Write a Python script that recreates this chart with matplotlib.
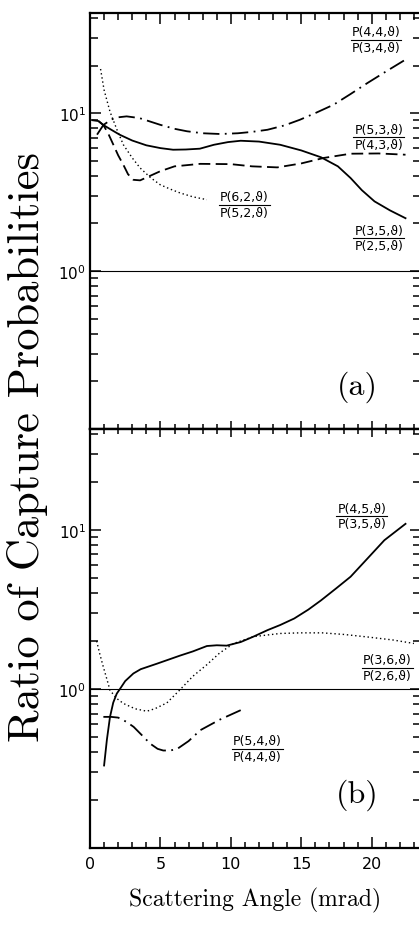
import matplotlib
matplotlib.use("Agg")
import matplotlib.pyplot as plt
from matplotlib.ticker import LogLocator, MultipleLocator, NullFormatter, FixedLocator

# ---------------- data ----------------
# panel (a)
a_solid_x = [0.2, 0.6, 0.95, 1.5, 2.1, 3.0, 4.0, 5.0, 5.9, 6.8, 7.8, 8.8, 9.8, 10.7,
             12.0, 13.5, 15.0, 16.4, 17.6, 18.5, 19.3, 20.2, 21.3, 22.4]
a_solid_y = [9.0, 8.9, 8.4, 7.85, 7.3, 6.7, 6.25, 6.0, 5.86, 5.88, 5.95, 6.3, 6.55, 6.68,
             6.6, 6.3, 5.8, 5.25, 4.6, 3.88, 3.25, 2.76, 2.42, 2.16]

a_dashed_x = [0.6, 0.95, 1.3, 1.66, 2.0, 2.37, 2.7, 3.08, 3.56, 4.2, 4.98, 6.0, 7.83,
              10.0, 11.5, 13.3, 15.0, 16.6, 18.5, 20.5, 22.4]
a_dashed_y = [8.9, 8.4, 7.4, 6.3, 5.4, 4.7, 4.1, 3.78, 3.75, 3.98, 4.28, 4.6, 4.77,
              4.75, 4.6, 4.53, 4.8, 5.2, 5.53, 5.55, 5.45]

a_dashdot_x = [0.5, 0.95, 1.5, 2.0, 2.6, 3.5, 4.98, 6.0, 6.88, 8.0, 9.25, 10.5, 11.5,
               12.6, 13.8, 14.9, 16.0, 17.3, 18.5, 19.7, 21.0, 22.4]
a_dashdot_y = [7.3, 8.4, 9.1, 9.4, 9.53, 9.3, 8.43, 7.95, 7.67, 7.45, 7.37, 7.45, 7.6,
               7.84, 8.35, 9.07, 10.0, 11.3, 13.2, 15.5, 18.3, 21.8]

a_dotted_x = [0.75, 1.0, 1.42, 1.9, 2.37, 3.0, 3.56, 4.3, 4.98, 5.7, 6.4, 7.3, 8.3]
a_dotted_y = [19.0, 14.0, 10.2, 7.9, 6.3, 5.2, 4.49, 3.9, 3.52, 3.3, 3.12, 2.95, 2.83]

# panel (b)
b_solid_x = [1.0, 1.2, 1.42, 1.65, 1.9, 2.13, 2.5, 3.08, 3.6, 4.75, 5.6, 6.4, 7.3, 8.3,
             9.0, 9.7, 10.7, 11.6, 12.6, 13.5, 14.5, 15.5, 16.4, 17.5, 18.5, 19.7, 20.9, 22.4]
b_solid_y = [0.33, 0.48, 0.667, 0.82, 0.934, 1.0, 1.12, 1.25, 1.33, 1.44, 1.53, 1.62, 1.72, 1.86,
             1.88, 1.87, 1.97, 2.13, 2.34, 2.52, 2.77, 3.15, 3.6, 4.3, 5.07, 6.6, 8.6, 10.9]

b_dotted_x = [0.47, 0.7, 0.95, 1.2, 1.42, 1.9, 2.37, 3.2, 4.03, 4.6, 5.46, 6.45, 7.3, 8.3,
              9.2, 10.2, 11.6, 13.5, 14.9, 16.5, 18.0, 19.7, 21.5, 23.0]
b_dotted_y = [2.0, 1.65, 1.37, 1.15, 0.98, 0.87, 0.81, 0.75, 0.724, 0.75, 0.817, 1.0, 1.2, 1.42,
              1.68, 1.93, 2.13, 2.23, 2.25, 2.25, 2.2, 2.12, 2.03, 1.93]

b_dashdot_x = [0.95, 1.5, 2.0, 2.6, 3.1, 3.7, 4.27, 4.8, 5.2, 5.7, 6.2, 7.0, 7.83, 9.2, 10.7]
b_dashdot_y = [0.667, 0.667, 0.66, 0.62, 0.577, 0.51, 0.453, 0.42, 0.41, 0.41, 0.42, 0.47,
               0.55, 0.64, 0.735]

x_tick_values = [0, 5, 10, 15, 20]
x_tick_labels = ["0", "5", "10", "15", "20"]
y_tick_values = [1, 10]
y_tick_labels = [r"$10^0$", r"$10^1$"]

labels_a = [("P(4,4,ϑ)", "P(3,4,ϑ)", 20.3, 29.1),
            ("P(5,3,ϑ)", "P(4,3,ϑ)", 20.5, 7.05),
            ("P(6,2,ϑ)", "P(5,2,ϑ)", 10.95, 2.63),
            ("P(3,5,ϑ)", "P(2,5,ϑ)", 20.5, 1.62)]
labels_b = [("P(4,5,ϑ)", "P(3,5,ϑ)", 19.3, 12.2),
            ("P(3,6,ϑ)", "P(2,6,ϑ)", 21.1, 1.36),
            ("P(5,4,ϑ)", "P(4,4,ϑ)", 11.9, 0.42)]

# ---------------- figure ----------------
W_PX, H_PX = 419, 928
fig = plt.figure(figsize=(W_PX / 100, H_PX / 100), dpi=100)
L = 90 / W_PX
R = 421 / W_PX
top_a = 1 - 14 / H_PX
mid = 1 - 430 / H_PX
bot = 1 - 849 / H_PX
ax_a = fig.add_axes([L, mid, R - L, top_a - mid])
ax_b = fig.add_axes([L, bot, R - L, mid - bot])

XMAX = 23.5
YMIN, YMAX = 0.1, 43

solid = dict(color="k", lw=1.3, linestyle="-")
dashed = dict(color="k", lw=1.3, linestyle=(0, (6.5, 3)))
dashdot = dict(color="k", lw=1.3, linestyle=(0, (9, 3, 1, 3)))
dotted = dict(color="k", lw=1.0, linestyle=(0, (1, 2)))

ax_a.plot(a_solid_x, a_solid_y, **solid)
ax_a.plot(a_dashed_x, a_dashed_y, **dashed)
ax_a.plot(a_dashdot_x, a_dashdot_y, **dashdot)
ax_a.plot(a_dotted_x, a_dotted_y, **dotted)

ax_b.plot(b_solid_x, b_solid_y, **solid)
ax_b.plot(b_dotted_x, b_dotted_y, **dotted)
ax_b.plot(b_dashdot_x, b_dashdot_y, **dashdot)

for ax in (ax_a, ax_b):
    ax.axhline(1.0, color="k", lw=0.8)
    ax.set_yscale("log")
    ax.set_xlim(0, XMAX)
    ax.set_ylim(YMIN, YMAX)
    ax.yaxis.set_major_locator(FixedLocator(y_tick_values))
    ax.set_yticklabels(y_tick_labels)
    ax.yaxis.set_minor_locator(LogLocator(base=10, subs=[2, 3, 4, 5, 6, 7, 8, 9]))
    ax.yaxis.set_minor_formatter(NullFormatter())
    ax.tick_params(axis="y", which="both", left=True, right=True, direction="in",
                   labelsize=11, pad=3, width=1.1)
    ax.tick_params(axis="y", which="major", length=8)
    ax.tick_params(axis="y", which="minor", length=6)
    ax.xaxis.set_major_locator(FixedLocator(x_tick_values))
    ax.xaxis.set_minor_locator(MultipleLocator(1))
    for s in ax.spines.values():
        s.set_linewidth(1.6)

# panel (a): top ticks inward, no labels
ax_a.tick_params(axis="x", which="both", bottom=False, top=True, labelbottom=False,
                 direction="in", width=1.1)
ax_a.tick_params(axis="x", which="major", length=8)
ax_a.tick_params(axis="x", which="minor", length=5)

# panel (b): bottom ticks inward with labels, boundary ticks crossing
ax_b.set_xticklabels(x_tick_labels)
ax_b.tick_params(axis="x", which="both", bottom=True, top=False, direction="in",
                 labelsize=11.5, pad=6, width=1.1)
ax_b.tick_params(axis="x", which="major", length=8)
ax_b.tick_params(axis="x", which="minor", length=4.5)
sec = ax_b.secondary_xaxis("top")
sec.xaxis.set_major_locator(FixedLocator(x_tick_values))
sec.xaxis.set_minor_locator(MultipleLocator(1))
sec.tick_params(axis="x", which="both", direction="inout", labeltop=False, width=1.1)
sec.tick_params(axis="x", which="major", length=12)
sec.tick_params(axis="x", which="minor", length=7)
sec.spines["top"].set_linewidth(1.6)


def frac(ax, num, den, x, y, hw=1.8, fs=9):
    ax.annotate(num, (x, y), xytext=(0, 1.0), textcoords="offset points",
                ha="center", va="bottom", fontsize=fs)
    ax.annotate(den, (x, y), xytext=(0, -1.0), textcoords="offset points",
                ha="center", va="top", fontsize=fs)
    ax.plot([x - hw, x + hw], [y, y], color="k", lw=0.8)


for num, den, x, y in labels_a:
    frac(ax_a, num, den, x, y)
for num, den, x, y in labels_b:
    frac(ax_b, num, den, x, y)

ax_a.text(19.0, 0.187, "(a)", fontfamily="cmr10", fontsize=23, ha="center", va="center")
ax_b.text(19.0, 0.219, "(b)", fontfamily="cmr10", fontsize=23, ha="center", va="center")

fig.text(28 / W_PX, 1 - 447 / H_PX, "Ratio of Capture Probabilities", rotation=90,
         fontfamily="cmr10", fontsize=32, ha="center", va="center")
fig.text(255 / W_PX, 1 - 900 / H_PX, "Scattering Angle (mrad)",
         fontfamily="cmr10", fontsize=17, ha="center", va="center")

fig.savefig("out.png", dpi=100)
